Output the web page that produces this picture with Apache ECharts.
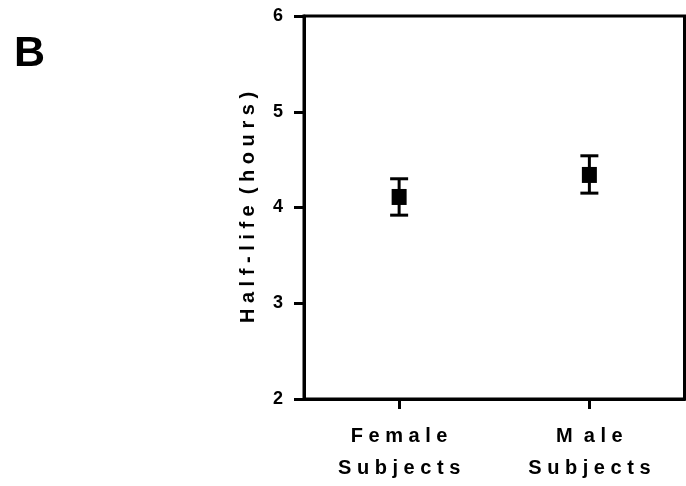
<!DOCTYPE html>
<html>
<head>
<meta charset="utf-8">
<script src="https://cdn.jsdelivr.net/npm/echarts@6/dist/echarts.min.js"></script>
<style>
  html, body { margin: 0; padding: 0; background: #fff; }
  #chart { width: 686px; height: 486px; }
</style>
</head>
<body>
<div id="chart"></div>
<script>
// values
const categories = ["F e m a l e\nS u b j e c t s", "M  a l e\nS u b j e c t s"];
const halfLife = [4.11, 4.34];
const errLow = [3.92, 4.15];
const errHigh = [4.30, 4.54];
const yTicks = [2, 3, 4, 5, 6];

const FONT = "Liberation Sans";

const chart = echarts.init(document.getElementById("chart"));

const option = {
  animation: false,
  backgroundColor: "#fff",
  graphic: [
    {
      type: "text",
      left: 14,
      top: 33,
      style: {
        text: "B",
        font: "bold 43px " + FONT,
        fill: "#000"
      }
    }
  ],
  grid: {
    left: 304,
    top: 16,
    right: 1.5,
    bottom: 87,
    show: true,
    borderColor: "#000",
    borderWidth: 3
  },
  xAxis: {
    type: "category",
    data: categories,
    axisLine: { lineStyle: { color: "#000", width: 3 } },
    axisTick: { show: true, alignWithLabel: true, length: 10, lineStyle: { color: "#000", width: 3 } },
    axisLabel: {
      color: "#000",
      fontFamily: FONT,
      fontWeight: "bold",
      fontSize: 20,
      lineHeight: 32,
      margin: 21
    }
  },
  yAxis: {
    type: "value",
    min: yTicks[0],
    max: yTicks[yTicks.length - 1],
    interval: 1,
    name: "H a l f - l i f e  ( h o u r s )",
    nameLocation: "middle",
    nameGap: 46,
    nameTextStyle: {
      color: "#000",
      fontFamily: FONT,
      fontWeight: "bold",
      fontSize: 20
    },
    splitLine: { show: false },
    axisLine: { show: true, lineStyle: { color: "#000", width: 3 } },
    axisTick: { show: true, length: 10, lineStyle: { color: "#000", width: 3 } },
    axisLabel: {
      color: "#000",
      fontFamily: FONT,
      fontWeight: "bold",
      fontSize: 18,
      margin: 21
    }
  },
  series: [
    {
      type: "custom",
      data: categories.map((c, i) => [i, errLow[i], errHigh[i]]),
      renderItem: function (params, api) {
        const lo = api.coord([api.value(0), api.value(1)]);
        const hi = api.coord([api.value(0), api.value(2)]);
        const half = 9;
        const style = { stroke: "#000", lineWidth: 3 };
        return {
          type: "group",
          children: [
            { type: "line", shape: { x1: hi[0], y1: hi[1], x2: lo[0], y2: lo[1] }, style: style },
            { type: "line", shape: { x1: hi[0] - half, y1: hi[1], x2: hi[0] + half, y2: hi[1] }, style: style },
            { type: "line", shape: { x1: lo[0] - half, y1: lo[1], x2: lo[0] + half, y2: lo[1] }, style: style }
          ]
        };
      },
      z: 2
    },
    {
      type: "scatter",
      data: halfLife,
      symbol: "rect",
      symbolSize: [15, 16],
      itemStyle: { color: "#000", opacity: 1 },
      z: 3
    }
  ]
};

chart.setOption(option);
</script>
</body>
</html>
